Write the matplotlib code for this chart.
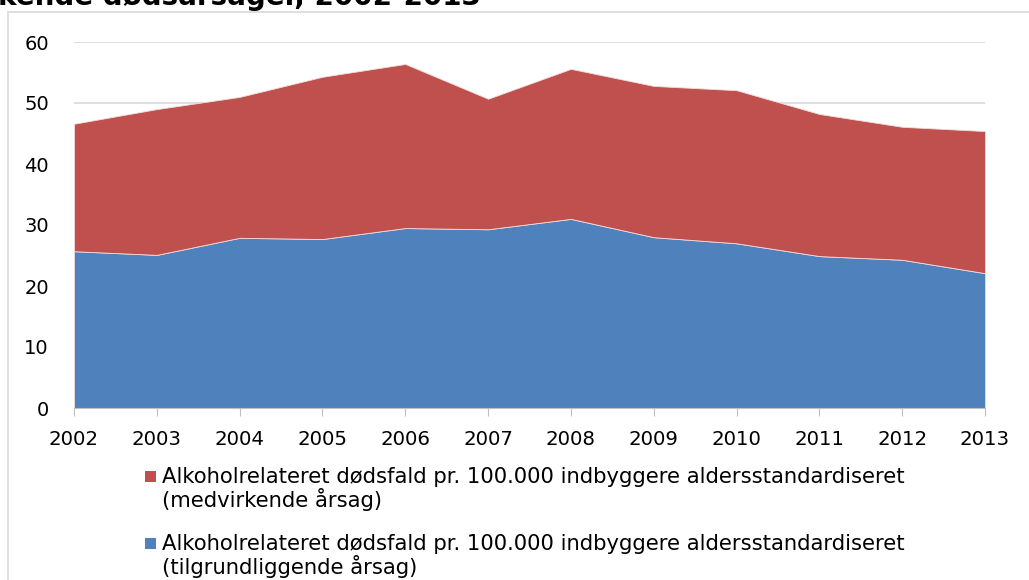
import matplotlib
matplotlib.use("Agg")
import numpy as np
from matplotlib import pyplot as plt
from matplotlib.patches import Rectangle

years = ["2002", "2003", "2004", "2005", "2006", "2007",
         "2008", "2009", "2010", "2011", "2012", "2013"]
underlying = [25.7, 25.1, 27.9, 27.7, 29.5, 29.3, 31.0, 28.0, 27.0, 24.9, 24.3, 22.1]
contributing = [20.9, 23.9, 23.1, 26.6, 26.9, 21.4, 24.6, 24.8, 25.1, 23.3, 21.8, 23.3]
legend_lines = [
    ["Alkoholrelateret dødsfald pr. 100.000 indbyggere aldersstandardiseret",
     "(medvirkende årsag)"],
    ["Alkoholrelateret dødsfald pr. 100.000 indbyggere aldersstandardiseret",
     "(tilgrundliggende årsag)"],
]

blue = "#4f81bd"
red = "#c0504d"
W, H = 1029, 580

fig = plt.figure(figsize=(W / 100, H / 100), dpi=100)
# outer chart frame (partly outside the image)
fig.patches.append(Rectangle((8 / W, -0.1), 1.2, 1 - 12 / H + 0.1,
                             transform=fig.transFigure, fill=False,
                             edgecolor="#d9d9d9", linewidth=1.2))
fig.text(-2 / W, 1 - 5 / H, "kende dødsårsager, 2002-2013", fontsize=20,
         fontweight="bold", va="baseline", ha="left")

ax = fig.add_axes([74 / W, 1 - 408 / H, (985 - 74) / W, (408 - 42) / H])
x = np.arange(len(years))
ax.stackplot(x, underlying, contributing, colors=[blue, red],
             edgecolor="#f2dcdb", linewidth=0.6)

ax.set_xlim(0, len(years) - 1)
ax.set_ylim(0, 60)
ax.set_yticks(range(0, 61, 10))
ax.set_xticks(x)
ax.set_xticklabels(years)
ax.grid(axis="y", color="#d9d9d9", linewidth=1.2)
ax.set_axisbelow(True)
for s in ["top", "right", "left"]:
    ax.spines[s].set_visible(False)
ax.spines["bottom"].set_color("#bfbfbf")
ax.tick_params(axis="y", length=0, labelsize=14, pad=18)
ax.tick_params(axis="x", length=6, color="#bfbfbf", labelsize=14.2, pad=10)

# legend: square aligned with first line, two-line labels
colors = [red, blue]
entry_base = [483, 550]
for c, base, lines in zip(colors, entry_base, legend_lines):
    fig.patches.append(Rectangle((145 / W, 1 - (base - 1) / H), 11 / W, 11 / H,
                                 transform=fig.transFigure, facecolor=c,
                                 edgecolor="none"))
    for i, line in enumerate(lines):
        fig.text(162 / W, 1 - (base + 24 * i) / H, line, fontsize=15.2,
                 va="baseline", ha="left")

fig.savefig("out.png", dpi=100)
